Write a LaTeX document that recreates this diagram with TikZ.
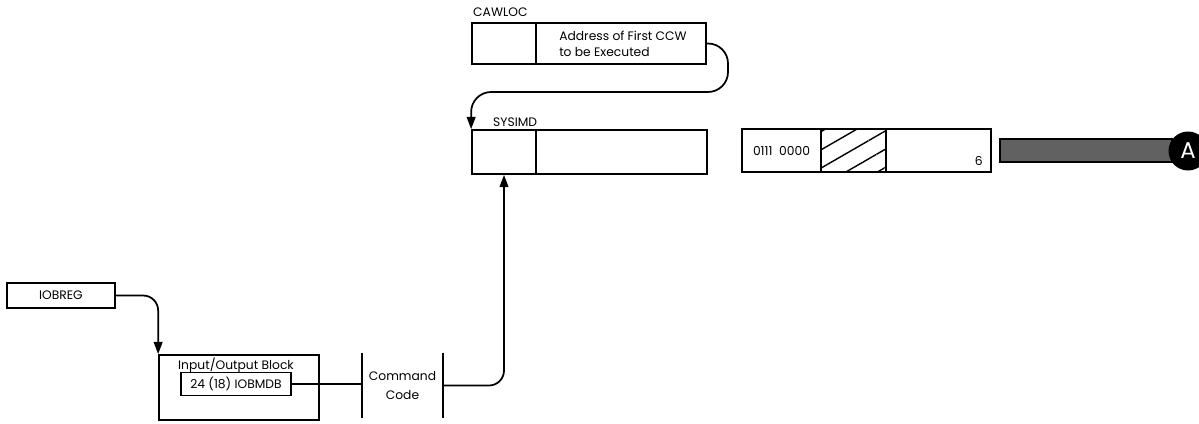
\documentclass[tikz,border=0pt]{standalone}
\usepackage{fontspec}
\setsansfont{Poppins}
\usetikzlibrary{calc,arrows.meta,patterns.meta}

\tikzset{
  cell/.style={draw, line width=1pt, inner sep=0pt, font=\sffamily\fontsize{7}{8.5}\selectfont},
  lbl/.style={font=\sffamily\fontsize{7}{9}\selectfont, inner sep=1pt},
  flow/.style={line width=1pt, -{Triangle[length=7pt,width=5pt]}},
  link/.style={line width=1pt}
}

\begin{document}
\begin{tikzpicture}[x=0.02cm, y=-0.02cm]
\useasboundingbox (0,0) rectangle (1199,423);

\node[cell, minimum width=1.28cm, minimum height=0.82cm] (cawA) at (504,43.5) {};
\node[cell, minimum width=3.4cm, minimum height=0.82cm] (cawB) at (621,43.5) {};
\node[lbl, anchor=south west] (cawName) at ([yshift=0.06cm]cawA.north west) {CAWLOC};
\node[lbl, anchor=west, align=left] (cawTxt) at ([xshift=0.44cm]cawB.west) {Address of First CCW\\to be Executed};

\node[cell, minimum width=1.28cm, minimum height=0.88cm] (sysA) at (504,152) {};
\node[cell, minimum width=3.42cm, minimum height=0.88cm] (sysB) at (621.5,152) {};
\node[lbl, anchor=south west] (sysName) at ([xshift=0.4cm]sysA.north west) {SYSIMD};

\node[cell, minimum width=1.58cm, minimum height=0.86cm] (rA) at (781.5,150.5) {0111\ \ 0000};
\node[cell, minimum width=1.3cm, minimum height=0.86cm,
  pattern={Lines[angle=30, distance=9pt, line width=0.8pt]}] (rB) at (853.5,150.5) {};
\node[cell, minimum width=2.1cm, minimum height=0.86cm] (rC) at (938.5,150.5) {};
\node[lbl, anchor=south east] (rNum) at ([xshift=-0.14cm, yshift=0.1cm]rC.south east) {6};

\node[draw, line width=1.2pt, fill=black!62, minimum width=3.44cm, minimum height=0.46cm, inner sep=0pt] (bar) at (1086,150.5) {};
\node[circle, fill=black, text=white, minimum size=0.78cm, inner sep=0pt,
  font=\sffamily\fontsize{13}{13}\selectfont] (conA) at (1188,151) {A};

\node[cell, minimum width=2.16cm, minimum height=0.5cm] (iobreg) at (61,295.5) {IOBREG};

\node[cell, minimum width=3.2cm, minimum height=1.3cm] (iob) at (239,387.5) {};
\node[lbl, anchor=base] (iobTitle) at (236,369) {Input/Output Block};
\node[cell, minimum width=2.2cm, minimum height=0.46cm] (iobmdb) at (236,384) {24 (18) IOBMDB};

\node[lbl, align=center, minimum width=1.62cm, minimum height=1.3cm,
  font=\sffamily\fontsize{7}{10.5}\selectfont] (cmd) at (402.5,385.5) {Command\\Code};
\draw[link] (cmd.north west) -- (cmd.south west);
\draw[link] (cmd.north east) -- (cmd.south east);

\coordinate (loop) at (728,92);

\draw[flow, rounded corners=0.4cm] (cawB.east) -| (loop) -| (sysA.north west);
\draw[flow, rounded corners=0.3cm] (iobreg.east) -| (iob.north west);
\draw[link] (iobmdb.east) -- (iobmdb.east -| cmd.west);
\draw[flow, rounded corners=0.3cm] (cmd.east) -| (sysA.south);

\end{tikzpicture}
\end{document}
